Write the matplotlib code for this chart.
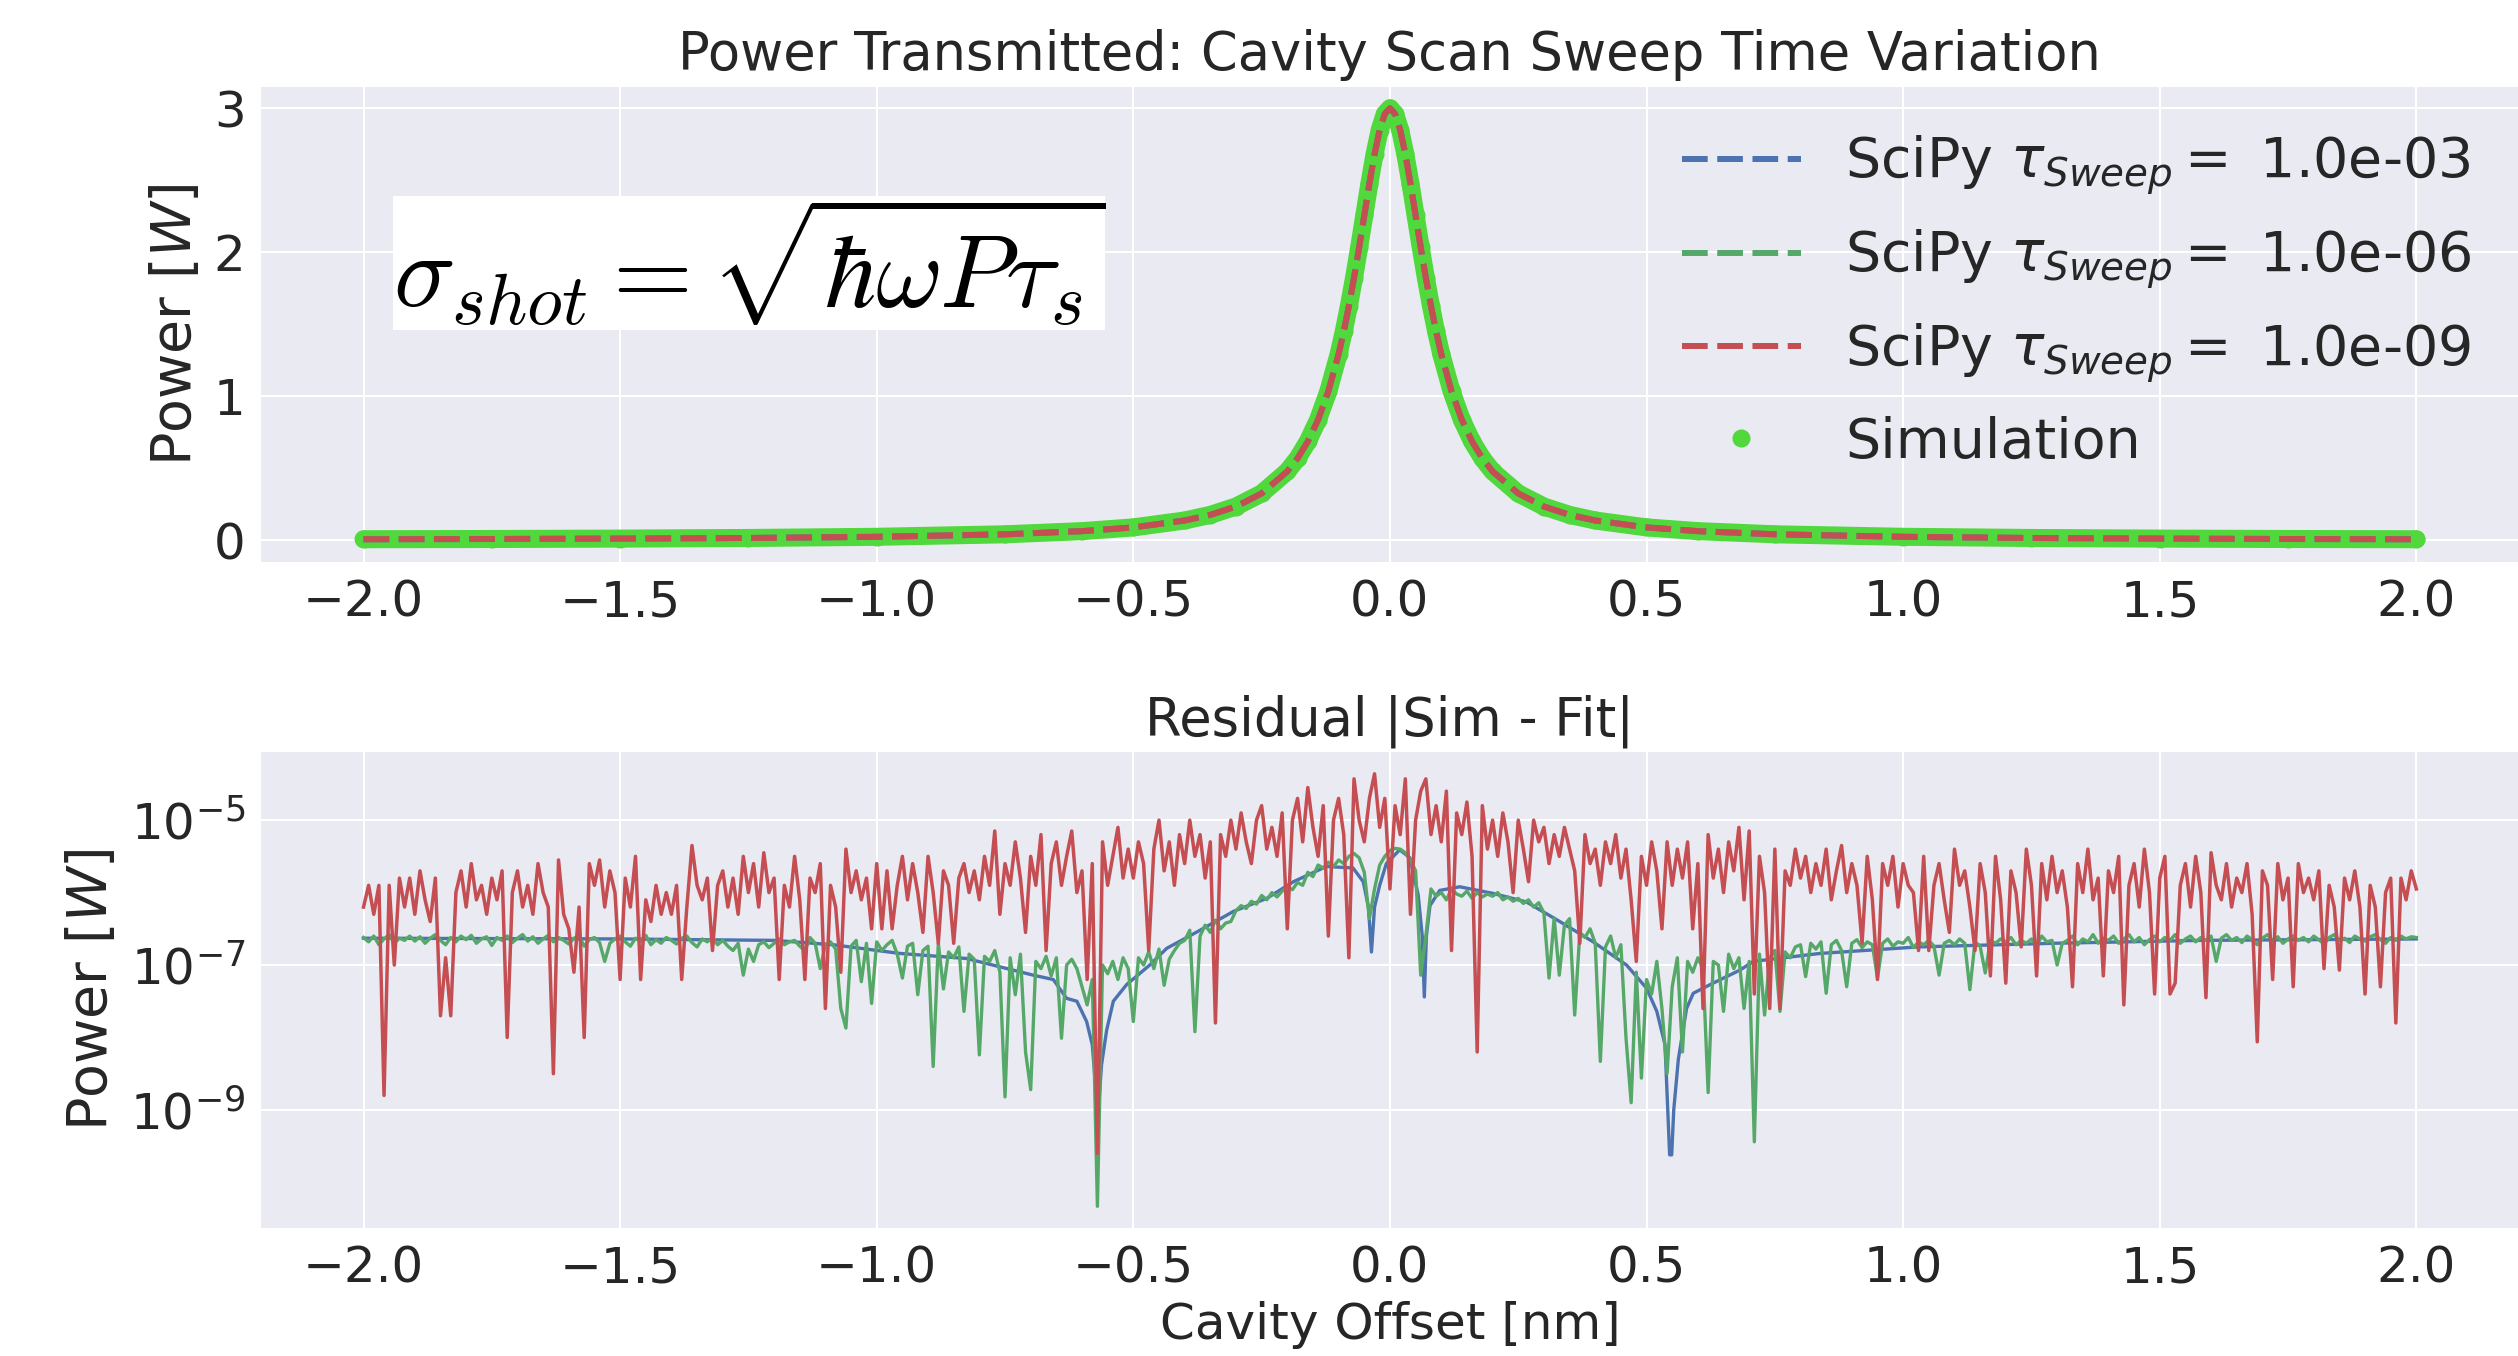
import numpy as np
import matplotlib
matplotlib.use("Agg")
import matplotlib.pyplot as plt
from matplotlib.lines import Line2D

# ---------------- data: top panel (transmitted power, W) ----------------
offset_top = [-2.0, -1.75, -1.5, -1.25, -1.0, -0.75, -0.6, -0.5, -0.4, -0.35, -0.3, -0.25,
              -0.2, -0.18, -0.16, -0.14, -0.12, -0.1, -0.09, -0.08, -0.07, -0.06, -0.05,
              -0.04, -0.03, -0.02, -0.01, 0.0, 0.01, 0.02, 0.03, 0.04, 0.05, 0.06, 0.07,
              0.08, 0.09, 0.1, 0.12, 0.14, 0.16, 0.18, 0.2, 0.25, 0.3, 0.35, 0.4, 0.5,
              0.6, 0.75, 1.0, 1.25, 1.5, 1.75, 2.0]
power_sim = [0.0057, 0.0074, 0.0101, 0.0145, 0.0226, 0.040, 0.062, 0.088, 0.136, 0.175,
             0.233, 0.324, 0.477, 0.568, 0.685, 0.836, 1.034, 1.292, 1.449, 1.626, 1.821,
             2.033, 2.255, 2.477, 2.681, 2.849, 2.961, 3.0, 2.961, 2.849, 2.681, 2.477,
             2.255, 2.033, 1.821, 1.626, 1.449, 1.292, 1.034, 0.836, 0.685, 0.568, 0.477,
             0.324, 0.233, 0.175, 0.136, 0.088, 0.062, 0.040, 0.0226, 0.0145, 0.0101,
             0.0074, 0.0057]
fit_1e3 = list(power_sim)
fit_1e6 = list(power_sim)
fit_1e9 = list(power_sim)
tau_labels = ["1.0e-03", "1.0e-06", "1.0e-09"]

# ---------------- data: bottom panel (residuals, log10 of W) ----------------
resid_offset = np.linspace(-2.0, 2.0, 401)

resid_log_1e9 = [
    -6.2, -5.9, -6.3, -5.9, -8.8, -5.9, -7.0, -5.8, -6.2, -5.8,
    -6.3, -5.7, -6.1, -6.4, -5.8, -7.7, -6.9, -7.7, -6.0, -5.7,
    -6.2, -5.6, -6.1, -5.9, -6.3, -5.8, -6.1, -5.7, -8.0, -6.0,
    -5.7, -6.2, -5.9, -6.3, -5.6, -6.0, -6.2, -8.5, -5.55, -6.3,
    -6.5, -7.1, -6.2, -8.0, -5.6, -5.9, -5.55, -6.2, -5.7, -6.0,
    -7.2, -5.8, -6.2, -5.5, -7.2, -6.1, -6.4, -5.9, -6.3, -6.0,
    -6.3, -5.9, -7.2, -6.2, -5.35, -5.9, -6.1, -5.8, -6.8, -5.9,
    -5.7, -6.2, -5.8, -6.3, -5.5, -6.0, -5.6, -6.2, -5.45, -6.0,
    -5.8, -7.2, -5.9, -6.2, -5.5, -6.1, -7.2, -5.8, -6.0, -5.6,
    -7.6, -5.9, -6.2, -7.1, -5.4, -6.0, -5.7, -6.1, -5.8, -6.5,
    -5.6, -6.5, -5.7, -6.5, -5.9, -5.5, -6.1, -5.6, -6.0, -6.55,
    -5.5, -6.0, -6.7, -5.7, -5.9, -6.7, -5.8, -5.6, -6.0, -5.7,
    -6.1, -5.5, -5.9, -5.15, -6.3, -5.6, -5.9, -5.3, -5.8, -6.55,
    -5.5, -5.9, -5.2, -6.8, -5.6, -5.3, -5.9, -5.5, -5.15, -6.0,
    -5.7, -7.2, -5.6, -9.6, -5.3, -5.9, -5.5, -5.1, -5.8, -5.4,
    -5.8, -5.3, -5.6, -6.8, -5.4, -5.0, -5.7, -5.3, -5.9, -5.2,
    -5.6, -5.0, -5.5, -5.2, -5.8, -5.3, -7.8, -5.2, -5.5, -5.0,
    -5.4, -4.9, -5.3, -5.6, -5.0, -4.8, -5.4, -5.1, -5.5, -4.9,
    -6.5, -5.0, -4.7, -5.3, -4.55, -5.1, -5.5, -4.8, -6.6, -5.0,
    -4.7, -5.2, -6.9, -4.43, -5.0, -5.3, -4.7, -4.36, -5.1, -4.7,
    -5.95, -4.8, -5.2, -4.43, -6.3, -5.0, -4.6, -4.43, -5.2, -4.8,
    -5.3, -4.6, -6.8, -4.9, -5.2, -4.75, -5.5, -8.2, -4.8, -5.4,
    -5.0, -5.5, -4.9, -5.3, -6.0, -5.0, -5.4, -5.85, -5.0, -5.3,
    -5.1, -5.6, -5.2, -5.5, -5.1, -5.4, -5.7, -6.7, -5.2, -5.6,
    -5.4, -5.9, -5.3, -5.6, -5.2, -5.8, -5.4, -6.1, -6.95, -5.5,
    -5.9, -5.3, -5.7, -6.5, -5.3, -5.9, -5.4, -5.8, -5.3, -6.5,
    -5.6, -7.6, -5.2, -5.8, -5.4, -6.0, -5.3, -5.7, -5.1, -6.1,
    -5.15, -7.4, -5.5, -6.0, -7.6, -5.4, -7.6, -5.7, -5.9, -5.4,
    -5.8, -5.5, -6.0, -5.6, -5.9, -5.4, -6.1, -5.7, -5.35, -6.0,
    -5.6, -5.9, -6.7, -5.5, -6.1, -7.2, -5.6, -5.9, -5.5, -6.2,
    -5.6, -5.9, -6.0, -6.8, -5.5, -6.8, -5.9, -5.6, -6.1, -6.55,
    -5.4, -5.9, -5.7, -6.2, -6.8, -5.6, -6.0, -7.15, -5.5, -6.1,
    -7.25, -5.7, -6.0, -6.75, -5.4, -5.9, -7.15, -5.6, -6.1, -5.5,
    -6.0, -5.7, -6.2, -7.3, -5.6, -6.0, -5.4, -6.1, -5.8, -7.15,
    -5.7, -6.0, -5.5, -7.55, -5.9, -5.6, -6.2, -5.4, -6.0, -7.4,
    -5.8, -5.5, -7.4, -7.25, -5.9, -5.6, -6.2, -5.5, -6.0, -7.45,
    -5.45, -5.9, -6.1, -5.6, -6.2, -5.8, -6.0, -5.6, -6.3, -8.06,
    -5.7, -5.9, -7.2, -5.6, -6.1, -5.8, -7.3, -5.6, -6.0, -5.8,
    -6.1, -5.7, -7.05, -5.9, -6.2, -7.07, -5.8, -6.1, -5.7, -6.2,
    -7.4, -5.9, -6.2, -7.3, -6.0, -5.8, -7.8, -5.8, -6.1, -5.7,
    -5.95]

resid_log_1e6 = [
    -6.62, -6.68, -6.60, -6.72, -6.64, -6.58, -6.70, -6.63, -6.66, -6.60,
    -6.67, -6.61, -6.70, -6.63, -6.58, -6.66, -6.72, -6.62, -6.68, -6.60,
    -6.65, -6.59, -6.70, -6.64, -6.61, -6.73, -6.62, -6.66, -6.60, -6.69,
    -6.63, -6.58, -6.67, -6.61, -6.70, -6.64, -6.59, -6.68, -6.62, -6.66,
    -6.71, -6.63, -6.60, -6.74, -6.65, -6.62, -6.69, -6.95, -6.70, -6.64,
    -6.60, -6.68, -6.74, -6.63, -6.67, -6.59, -6.72, -6.65, -6.70, -6.62,
    -6.66, -6.71, -6.63, -6.60, -6.69, -6.75, -6.64, -6.68, -6.62, -6.72,
    -6.66, -6.74, -6.80, -6.70, -7.14, -6.78, -6.95, -6.72, -6.68, -6.76,
    -6.70, -6.64, -6.72, -6.68, -6.66, -6.74, -6.80, -6.62, -6.70, -7.05,
    -6.72, -6.68, -6.78, -7.60, -7.87, -6.74, -6.66, -7.23, -6.70, -7.53,
    -6.68, -6.80, -6.72, -6.66, -6.85, -7.18, -6.74, -6.70, -7.41, -6.80,
    -6.74, -8.40, -6.70, -7.33, -6.82, -6.90, -6.75, -7.64, -6.85, -6.92,
    -8.24, -6.88, -6.95, -6.80, -7.10, -8.82, -6.90, -7.41, -6.85, -8.20,
    -8.72, -6.95, -7.05, -6.88, -7.15, -6.90, -8.01, -7.00, -6.92, -7.05,
    -7.30, -7.55, -7.20, -10.33, -7.00, -7.12, -6.95, -7.20, -6.90, -7.05,
    -7.78, -6.90, -7.00, -6.82, -7.05, -6.78, -7.28, -6.92, -6.80, -6.70,
    -6.66, -6.52, -7.92, -6.60, -6.45, -6.55, -6.38, -6.50, -6.42, -6.40,
    -6.25, -6.18, -6.22, -6.12, -6.16, -6.04, -6.10, -6.00, -6.06, -5.98,
    -5.92, -5.96, -5.86, -5.90, -5.72, -5.78, -5.62, -5.66, -5.58, -5.64,
    -5.55, -5.60, -5.50, -5.46, -5.52, -5.72, -6.36, -5.95, -5.62, -5.50,
    -5.42, -5.39, -5.40, -5.45, -5.55, -5.70, -7.14, -6.60, -5.95, -6.05,
    -6.00, -6.10, -5.95, -6.02, -6.05, -5.98, -6.08, -6.00, -6.06, -6.02,
    -6.05, -6.00, -6.10, -6.06, -6.12, -6.08, -6.15, -6.10, -6.20, -6.14,
    -6.28, -7.18, -6.35, -7.14, -6.45, -6.36, -7.69, -6.55, -6.62, -6.50,
    -6.70, -8.33, -6.75, -6.60, -6.90, -6.72, -8.01, -8.90, -7.10, -8.56,
    -7.20, -7.40, -6.95, -7.60, -8.50, -7.30, -6.90, -8.20, -6.95, -7.10,
    -6.90, -7.05, -8.76, -6.95, -7.00, -7.64, -6.85, -7.05, -6.90, -7.60,
    -6.95, -9.44, -6.85, -7.69, -6.90, -6.80, -7.64, -6.82, -6.90, -6.75,
    -6.72, -7.16, -6.70, -6.78, -6.68, -7.39, -6.72, -6.66, -6.80, -7.30,
    -6.70, -6.65, -6.76, -6.68, -6.72, -7.18, -6.70, -6.64, -6.74, -6.68,
    -6.70, -6.62, -6.76, -6.68, -6.72, -6.66, -6.74, -7.14, -6.70, -6.66,
    -6.72, -6.64, -6.70, -7.34, -6.68, -6.74, -7.11, -6.66, -6.70, -6.64,
    -6.68, -6.62, -6.72, -6.66, -6.70, -6.64, -6.74, -6.60, -6.68, -6.66,
    -7.00, -6.70, -6.66, -6.60, -6.72, -6.64, -6.68, -6.58, -6.70, -6.63,
    -6.66, -6.60, -6.70, -6.64, -6.58, -6.68, -6.62, -6.72, -6.65, -6.60,
    -6.68, -6.62, -6.66, -6.58, -6.70, -6.64, -6.60, -6.68, -6.62, -6.66,
    -6.60, -6.95, -6.63, -6.58, -6.66, -6.62, -6.69, -6.60, -6.65, -6.72,
    -6.63, -6.58, -6.67, -6.61, -6.70, -6.64, -6.60, -6.66, -6.62, -6.68,
    -6.60, -6.65, -6.71, -6.62, -6.58, -6.66, -6.63, -6.69, -6.60, -6.64,
    -6.67, -6.61, -6.58, -6.65, -6.70, -6.62, -6.66, -6.60, -6.64, -6.61,
    -6.62]

resid_offset_1e3 = [-2.0, -1.5, -1.2, -1.085, -0.955, -0.825, -0.695, -0.656, -0.63, -0.61,
                    -0.591, -0.58, -0.572, -0.5695, -0.567, -0.562, -0.552, -0.539, -0.513,
                    -0.468, -0.435, -0.37, -0.305, -0.24, -0.188, -0.124, -0.072, -0.052,
                    -0.042, -0.036, -0.030, -0.020, -0.007, 0.019, 0.039, 0.055, 0.063,
                    0.067, 0.071, 0.078, 0.097, 0.136, 0.2, 0.266, 0.331, 0.396, 0.461,
                    0.5, 0.52, 0.536, 0.545, 0.549, 0.553, 0.562, 0.578, 0.591, 0.624,
                    0.682, 0.708, 0.838, 1.03, 1.292, 1.578, 2.0]
resid_log_1e3 = [-6.63, -6.64, -6.66, -6.72, -6.84, -6.91, -7.14, -7.2, -7.46, -7.5,
                 -7.78, -8.1, -8.8, -9.5, -8.9, -8.38, -7.9, -7.5, -7.27, -7.0, -6.77,
                 -6.52, -6.26, -6.08, -5.85, -5.64, -5.66, -5.85, -6.2, -6.82, -6.2,
                 -5.9, -5.6, -5.41, -5.52, -6.03, -6.6, -7.44, -6.6, -6.18, -5.97,
                 -5.92, -6.01, -6.13, -6.4, -6.68, -7.0, -7.32, -7.64, -8.1, -9.62,
                 -9.62, -9.0, -8.3, -7.6, -7.39, -7.27, -7.07, -6.95, -6.84, -6.75,
                 -6.7, -6.66, -6.64]

assert len(resid_log_1e9) == 401 and len(resid_log_1e6) == 401
assert len(resid_offset_1e3) == len(resid_log_1e3)

# ---------------- style ----------------
BLUE, GREEN, RED = "#4C72B0", "#55A868", "#C44E52"
SIMGREEN = "#50D83C"
TXT = "#262626"
FS_TICK = 36
FS_TITLE = 38
FS_YLAB = 40
FS_XLAB = 36
FS_LEG = 40
plt.rcParams.update({
    "font.family": ["DejaVu Sans"],
    "font.size": FS_TICK,
    "axes.facecolor": "#EAEAF2",
    "axes.edgecolor": "white",
    "axes.grid": True,
    "axes.axisbelow": True,
    "grid.color": "white",
    "grid.linewidth": 1.5,
    "text.color": TXT,
    "axes.labelcolor": TXT,
    "xtick.color": TXT,
    "ytick.color": TXT,
    "xtick.labelsize": FS_TICK,
    "ytick.labelsize": FS_TICK,
    "xtick.major.size": 0,
    "ytick.major.size": 0,
    "xtick.minor.size": 0,
    "ytick.minor.size": 0,
    "xtick.major.pad": 12,
    "ytick.major.pad": 11,
    "mathtext.fontset": "dejavusans",
})

fig = plt.figure(figsize=(25.18, 13.56), dpi=100)
ax1 = fig.add_axes([0.1036, 0.5858, 0.8968, 0.3503])
ax2 = fig.add_axes([0.1036, 0.0944, 0.8968, 0.3510])
for ax in (ax1, ax2):
    for s in ax.spines.values():
        s.set_visible(False)

# ---- top panel ----
ax1.plot(offset_top, power_sim, color=SIMGREEN, lw=13, solid_capstyle="round",
         solid_joinstyle="round", zorder=2)
ax1.plot(offset_top, power_sim, "o", color=SIMGREEN, ms=13, mew=0, zorder=2)
fits = [fit_1e3, fit_1e6, fit_1e9]
cols = [BLUE, GREEN, RED]
handles = []
for f, c, t in zip(fits, cols, tau_labels):
    ln, = ax1.plot(offset_top, f, color=c, lw=4.3, ls=(0, (4.3, 1.6)), zorder=3,
                   label=r"SciPy $\tau_{Sweep} =$ " + t)
    handles.append(ln)
handles.append(Line2D([], [], ls="none", marker="o", ms=13, mew=0, color=SIMGREEN,
                      label="Simulation"))
ax1.legend(handles=handles, loc="upper right", frameon=False, fontsize=FS_LEG,
           handlelength=2.15, handletextpad=0.8, labelspacing=0.55,
           borderaxespad=0.45)
ax1.set_xlim(-2.2, 2.2)
ax1.set_ylim(-0.15, 3.15)
ax1.set_xticks([-2.0, -1.5, -1.0, -0.5, 0.0, 0.5, 1.0, 1.5, 2.0])
ax1.set_yticks([0, 1, 2, 3])
ax1.set_ylabel(r"Power [$W$]", fontsize=FS_YLAB, labelpad=8)
ax1.set_title("Power Transmitted: Cavity Scan Sweep Time Variation", fontsize=FS_TITLE, pad=12)
ax1.text(0.0584, 0.629, r"$\sigma_{shot} = \sqrt{\hbar\omega P\tau_s}$",
         transform=ax1.transAxes, fontsize=74, math_fontfamily="cm", color="black",
         ha="left", va="center",
         bbox=dict(facecolor="white", edgecolor="none", pad=0))

# ---- bottom panel ----
ax2.plot(resid_offset_1e3, 10.0 ** np.array(resid_log_1e3), color=BLUE, lw=2.4)
ax2.plot(resid_offset, 10.0 ** np.array(resid_log_1e6), color=GREEN, lw=2.4)
ax2.plot(resid_offset, 10.0 ** np.array(resid_log_1e9), color=RED, lw=2.5)
ax2.set_yscale("log")
ax2.set_xlim(-2.2, 2.2)
ax2.set_ylim(10 ** -10.63, 10 ** -4.06)
ax2.set_yticks([1e-9, 1e-7, 1e-5])
ax2.yaxis.set_minor_locator(matplotlib.ticker.NullLocator())
ax2.set_xticks([-2.0, -1.5, -1.0, -0.5, 0.0, 0.5, 1.0, 1.5, 2.0])
ax2.set_ylabel(r"Power [$W$]", fontsize=FS_YLAB, labelpad=8)
ax2.set_xlabel("Cavity Offset [nm]", fontsize=FS_XLAB, labelpad=6)
ax2.set_title("Residual |Sim - Fit|", fontsize=FS_TITLE, pad=12)

fig.savefig("out.png", dpi=100)
